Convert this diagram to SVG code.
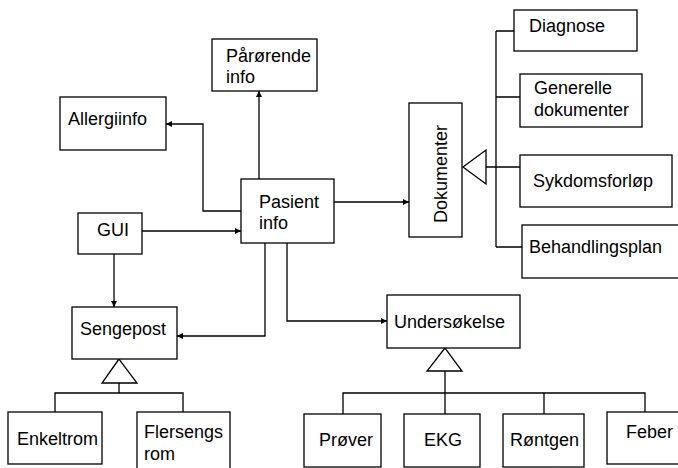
<svg xmlns="http://www.w3.org/2000/svg" width="678" height="468" viewBox="0 0 678 468">
<style>
.box{fill:#fff;stroke:#000;stroke-width:1.3}
.t{font-family:"Liberation Sans",Arial,sans-serif;font-size:18px;fill:#000}
.ln{fill:none;stroke:#000;stroke-width:1.3}
.tri{fill:#fff;stroke:#000;stroke-width:1.3}
</style>
<defs>
<marker id="ah" markerUnits="userSpaceOnUse" markerWidth="7" markerHeight="6" refX="6" refY="3" orient="auto">
<path d="M0,0 L6,3 L0,6 z" fill="#000"/>
</marker>
</defs>
<rect width="678" height="468" fill="#fff"/>
<g id="connectors">
<path class="ln" d="M259,179 V91" marker-end="url(#ah)"/>
<path class="ln" d="M241,211 H203 V124 H166" marker-end="url(#ah)"/>
<path class="ln" d="M142,231 H241" marker-end="url(#ah)"/>
<path class="ln" d="M334,202 H409" marker-end="url(#ah)"/>
<path class="ln" d="M114,254 V307" marker-end="url(#ah)"/>
<path class="ln" d="M265,243 V336 H177" marker-end="url(#ah)"/>
<path class="ln" d="M287,243 V321 H387" marker-end="url(#ah)"/>
<path class="ln" d="M486,167 H520 M496,31 V247 M496,31 H514 M496,97 H520 M496,247 H522"/>
<polygon class="tri" points="463,167 486,150 486,184"/>
<path class="ln" d="M119,383 V393 M55,412 V393 H183 V412"/>
<polygon class="tri" points="119,359 102,383 137,383"/>
<path class="ln" d="M445,371 V414 M343,414 V393 H645 V412 M544,393 V414"/>
<polygon class="tri" points="445,348 427,371 462,371"/>
</g>
<g id="parorende"><rect class="box" x="212" y="39" width="105" height="52"/><text class="t" x="226" y="62">Pårørende</text><text class="t" x="226" y="83">info</text></g>
<g id="allergiinfo"><rect class="box" x="60" y="97" width="106" height="53"/><text class="t" x="68" y="125">Allergiinfo</text></g>
<g id="pasient"><rect class="box" x="241" y="179" width="93" height="64"/><text class="t" x="259" y="208">Pasient</text><text class="t" x="259" y="229">info</text></g>
<g id="gui"><rect class="box" x="78" y="213" width="64" height="41"/><text class="t" x="97" y="236">GUI</text></g>
<g id="dokumenter"><rect class="box" x="409" y="103" width="53" height="134"/><text class="t" transform="translate(447,174) rotate(-90)" text-anchor="middle">Dokumenter</text></g>
<g id="diagnose"><rect class="box" x="514" y="10" width="123" height="41"/><text class="t" x="529" y="32">Diagnose</text></g>
<g id="generelle"><rect class="box" x="520" y="74" width="122" height="53"/><text class="t" x="534" y="94">Generelle</text><text class="t" x="534" y="116">dokumenter</text></g>
<g id="sykdomsforlop"><rect class="box" x="520" y="155" width="152" height="52"/><text class="t" x="533" y="187">Sykdomsforløp</text></g>
<g id="behandlingsplan"><rect class="box" x="522" y="225" width="160" height="53"/><text class="t" x="529" y="253">Behandlingsplan</text></g>
<g id="sengepost"><rect class="box" x="72" y="307" width="105" height="52"/><text class="t" x="80" y="335">Sengepost</text></g>
<g id="undersokelse"><rect class="box" x="387" y="295" width="133" height="53"/><text class="t" x="394" y="328">Undersøkelse</text></g>
<g id="enkeltrom"><rect class="box" x="8" y="412" width="94" height="52"/><text class="t" x="17" y="445">Enkeltrom</text></g>
<g id="flersengs"><rect class="box" x="137" y="412" width="93" height="60"/><text class="t" x="144" y="438">Flersengs</text><text class="t" x="144" y="460">rom</text></g>
<g id="prover"><rect class="box" x="304" y="414" width="77" height="53"/><text class="t" x="319" y="446">Prøver</text></g>
<g id="ekg"><rect class="box" x="404" y="414" width="76" height="53"/><text class="t" x="424" y="446">EKG</text></g>
<g id="rontgen"><rect class="box" x="503" y="414" width="81" height="53"/><text class="t" x="510" y="446">Røntgen</text></g>
<g id="feber"><rect class="box" x="607" y="412" width="75" height="52"/><text class="t" x="626" y="438">Feber</text></g>
</svg>
